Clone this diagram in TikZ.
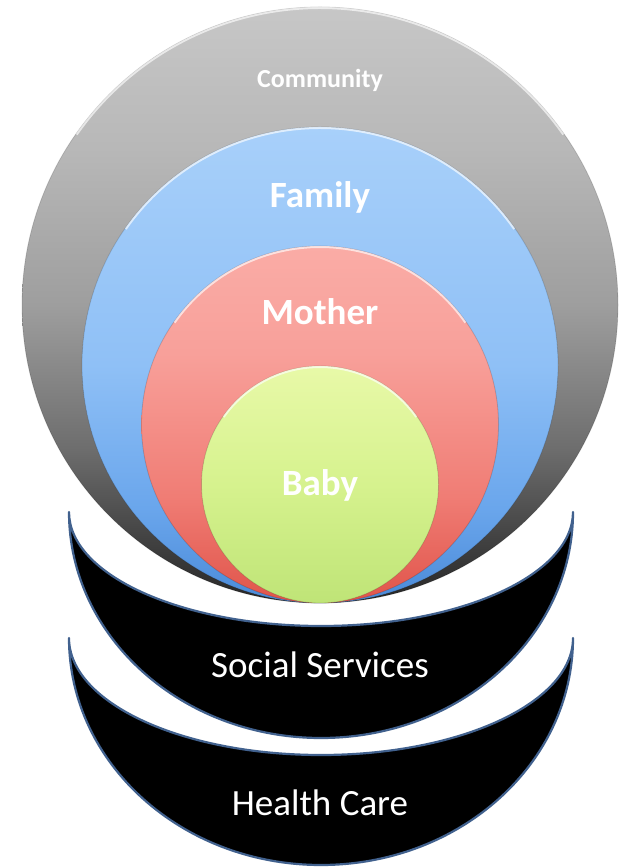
\documentclass[tikz,border=0pt]{standalone}
\usepackage{fontspec}
\setmainfont{Carlito}
\usetikzlibrary{shadings}
\definecolor{rimblue}{HTML}{41618E}
\pgfdeclareverticalshading{grayshade}{100bp}{color(0bp)=(black!85); color(25bp)=(black!85); color(30bp)=(black!75); color(38bp)=(black!57); color(50bp)=(black!38); color(63bp)=(black!28); color(75bp)=(black!22); color(100bp)=(black!22)}
\definecolor{b1}{HTML}{4A8AD8}\definecolor{b2}{HTML}{6AA6EC}\definecolor{b3}{HTML}{8FC0F6}\definecolor{b4}{HTML}{A8D0FA}
\pgfdeclareverticalshading{blueshade}{100bp}{color(0bp)=(b1); color(25bp)=(b1); color(35bp)=(b2); color(50bp)=(b3); color(75bp)=(b4); color(100bp)=(b4)}
\definecolor{r1}{HTML}{E0544A}\definecolor{r2}{HTML}{F07D75}\definecolor{r3}{HTML}{F8A09A}\definecolor{r4}{HTML}{FAACA6}
\pgfdeclareverticalshading{redshade}{100bp}{color(0bp)=(r1); color(25bp)=(r1); color(40bp)=(r2); color(60bp)=(r3); color(75bp)=(r4); color(100bp)=(r4)}
\definecolor{g1}{HTML}{BFE477}\definecolor{g2}{HTML}{D6F28E}\definecolor{g3}{HTML}{E8F9A8}
\pgfdeclareverticalshading{greenshade}{100bp}{color(0bp)=(g1); color(25bp)=(g1); color(50bp)=(g2); color(75bp)=(g3); color(100bp)=(g3)}
\tikzset{
  ring/.style={circle, inner sep=0pt, draw=black, draw opacity=0.15, line width=0.8pt},
  rim/.style={white, opacity=0.65, line width=2pt},
  bigtxt/.style={text=white, font=\fontsize{37}{40}\selectfont\bfseries, inner sep=0pt},
  smalltxt/.style={text=white, font=\fontsize{26}{30}\selectfont\bfseries, inner sep=0pt},
  bowltxt/.style={text=white, font=\fontsize{37}{40}\selectfont, inner sep=0pt},
  bowl/.style={fill=black, draw=rimblue, line width=2.2pt, line join=round}
}
\begin{document}
\begin{tikzpicture}[x=1pt,y=1pt]
\useasboundingbox (0,0) rectangle (620,867);
% black bowls
\coordinate (lowL) at (69,229);
\coordinate (upL) at (69,355);
\draw[bowl] (lowL) arc[start angle=180, end angle=360, x radius=252, y radius=227]
  arc[start angle=0, end angle=-180, x radius=252, y radius=117] -- cycle;
\draw[bowl] (upL) arc[start angle=180, end angle=360, x radius=252, y radius=226]
  arc[start angle=0, end angle=-180, x radius=252, y radius=114] -- cycle;
% circles
\node[ring, minimum size=596pt, shading=grayshade] (gray) at (320,562) {};
\draw[rim] (gray.center) ++(35:297) arc[start angle=35, end angle=145, radius=297];
\node[ring, minimum size=476pt, shading=blueshade] (blue) at (320,502) {};
\draw[rim] (blue.center) ++(35:237) arc[start angle=35, end angle=145, radius=237];
\node[ring, minimum size=357pt, shading=redshade] (red) at (320,442.5) {};
\draw[rim] (red.center) ++(35:177.5) arc[start angle=35, end angle=145, radius=177.5];
\node[ring, minimum size=237pt, shading=greenshade] (green) at (320,382.5) {};
\draw[rim] (green.center) ++(35:117.5) arc[start angle=35, end angle=145, radius=117.5];
% labels
\node[smalltxt] (tcomm) at (320,787) {Community};
\node[bigtxt] (tfam) at (320,670) {Family};
\node[bigtxt] (tmom) at (320,555) {Mother};
\node[bigtxt] (tbaby) at (320,382) {Baby};
\node[bowltxt] (tsoc) at (320,202) {Social Services};
\node[bowltxt] (thc) at (320,64) {Health Care};
\end{tikzpicture}
\end{document}
